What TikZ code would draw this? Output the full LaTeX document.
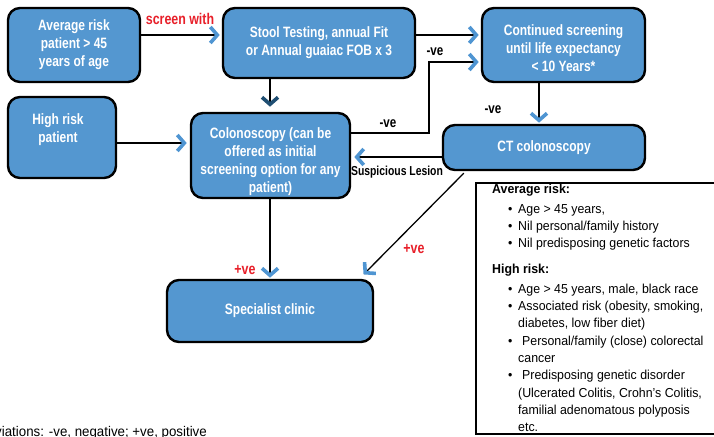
\documentclass[tikz,border=0pt]{standalone}
\usepackage{fontspec}
\setmainfont{Liberation Sans}[FakeStretch=0.8]
\newfontfamily\infofont{Liberation Sans}[FakeStretch=0.95]
\usetikzlibrary{calc}
\definecolor{boxblue}{HTML}{5497D0}
\definecolor{tipblue}{HTML}{4F95D2}
\definecolor{tipnavy}{HTML}{1F4E72}
\definecolor{labred}{HTML}{E8202A}
\newcommand{\bul}{\makebox[10pt][l]{\textbullet}}
\begin{document}
\begin{tikzpicture}[x=1pt,y=-1pt,
  box/.style={draw=black, line width=2.4pt, fill=boxblue, rounded corners=12pt,
    text=white, font=\bfseries\fontsize{15}{18}\selectfont, align=center, inner sep=0pt},
  boxtext/.style={text=white, font=\bfseries\fontsize{15}{18}\selectfont, align=center, inner sep=0pt},
  chev/.pic={\draw[line width=3.6pt, line cap=butt, line join=miter] (-8.5,-8) -- (-1.5,0) -- (-8.5,8);},
  conn/.style={line width=1.3pt},
  blab/.style={font=\bfseries\fontsize{14.5}{16}\selectfont, inner sep=0pt},
  slab/.style={font=\bfseries\fontsize{13}{15}\selectfont, inner sep=0pt},
  rlab/.style={blab, font=\bfseries\fontsize{15.5}{17}\selectfont, text=labred},
  info/.style={font=\infofont\fontsize{13}{15}\selectfont, anchor=west, inner sep=0pt, text height=9.5pt, text depth=2.5pt},
  infoh/.style={info, font=\infofont\bfseries\fontsize{13}{15}\selectfont}
]
\clip (0,0) rectangle (714,436);
\fill[white] (0,0) rectangle (714,436);

% boxes
\node[box, minimum width=132pt, minimum height=74pt] (A) at (74,45) {Average risk\\patient > 45\\years of age};
\node[box, minimum width=192pt, minimum height=70pt] (B) at (319,43) {Stool Testing, annual Fit\\or Annual guaiac FOB x 3};
\node[box, minimum width=163pt, minimum height=74pt] (C) at (563.5,45) {};
\node[boxtext] (Ct) at (563.5,48) {Continued screening\\until life expectancy\\< 10 Years*};
\node[box, minimum width=108pt, minimum height=81pt] (D) at (62,137.5) {};
\node[boxtext] (Dt) at (58,129.5) {High risk\\patient};
\node[box, minimum width=159pt, minimum height=85pt] (E) at (270.5,155.5) {};
\node[boxtext] (Et) at (270.5,162) {Colonoscopy (can be\\offered as initial\\screening option for any\\patient)};
\node[box, minimum width=202pt, minimum height=45pt] (F) at (544,147.5) {CT colonoscopy};
\node[box, minimum width=206pt, minimum height=62pt] (G) at (270,311) {Specialist clinic};

% arrow tip points
\coordinate (tAB) at ($(B.west |- 0,35)+(-3,0)$);
\coordinate (tBC) at ($(C.west |- 0,35)+(-3,0)$);
\coordinate (tEC) at ($(C.west |- 0,62)+(-3,0)$);
\coordinate (tCF) at ($(F.north -| 539,0)+(0,-2)$);
\coordinate (tFE) at ($(E.east |- 0,157)+(4,0)$);
\coordinate (tDE) at ($(E.west |- 0,143)+(-4,0)$);
\coordinate (tBE) at ($(E.north -| 270,0)+(0,-6)$);
\coordinate (tEG) at ($(G.north -| 270,0)+(0,-2)$);
\coordinate (tFG) at ($(G.north east)+(-10,-5)$);
\coordinate (kEC1) at (429,133);
\coordinate (kEC2) at (429,62);

% connectors
\draw[conn] (A.east |- 0,35) -- (tAB);
\draw[conn] (B.east |- 0,35) -- (tBC);
\draw[conn] (E.east |- 0,133) -- (kEC1) -- (kEC2) -- (tEC);
\draw[conn] (C.south -| 539,0) -- (tCF);
\draw[conn] (F.west |- 0,157) -- (tFE);
\draw[conn] (D.east |- 0,143) -- (tDE);
\draw[conn] (B.south -| 270,0) -- (tBE);
\draw[conn] (E.south -| 270,0) -- (tEG);
\draw[conn] ($(F.south west)+(22,2)$) -- (tFG);

% chevron heads
\pic[tipblue] at (tAB) {chev};
\pic[tipblue] at (tBC) {chev};
\pic[tipblue] at (tEC) {chev};
\pic[tipblue, rotate=-90] at (tCF) {chev};
\pic[tipblue, rotate=180] at (tFE) {chev};
\pic[tipblue] at (tDE) {chev};
\pic[tipnavy, rotate=-90] at (tBE) {chev};
\pic[tipblue, rotate=-90] at (tEG) {chev};
\pic[tipblue, rotate=-135] at (tFG) {chev};

% labels
\node[rlab] (l1) at (180,19) {screen with};
\node[blab] (l2) at (435,52) {-ve};
\node[blab] (l3) at (388,124) {-ve};
\node[blab] (l4) at (493,110) {-ve};
\node[slab] (l5) at (397,172) {Suspicious Lesion};
\node[rlab] (l6) at (245,270) {+ve};
\node[rlab] (l7) at (414,249) {+ve};

% info box
\node[draw=black, line width=2pt, anchor=north west, minimum width=250pt, minimum height=251pt, inner sep=0pt] (ib) at (475,182) {};
\node[infoh] (i1) at (492,190) {Average risk:};
\node[info] (i2) at (508,210) {\bul Age > 45 years,};
\node[info] (i3) at (508,227) {\bul Nil personal/family history};
\node[info] (i4) at (508,244) {\bul Nil predisposing genetic factors};
\node[infoh] (i5) at (492,270) {High risk:};
\node[info] (i6) at (508,290) {\bul Age > 45 years, male, black race};
\node[info] (i7) at (508,307) {\bul Associated risk (obesity, smoking,};
\node[info] (i8) at (518,324) {diabetes, low fiber diet)};
\node[info] (i9) at (508,342) {\makebox[14pt][l]{\textbullet}Personal/family (close) colorectal};
\node[info] (i10) at (518,359) {cancer};
\node[info] (i11) at (508,376) {\makebox[14pt][l]{\textbullet}Predisposing genetic disorder};
\node[info] (i12) at (518,394) {(Ulcerated Colitis, Crohn’s Colitis,};
\node[info] (i13) at (518,411) {familial adenomatous polyposis};
\node[info] (i14) at (518,428) {etc.};

\node[info, font=\infofont\fontsize{14}{16}\selectfont, anchor=east] (abbr) at (207,433) {Abbreviations: -ve, negative; +ve, positive};
\end{tikzpicture}
\end{document}
